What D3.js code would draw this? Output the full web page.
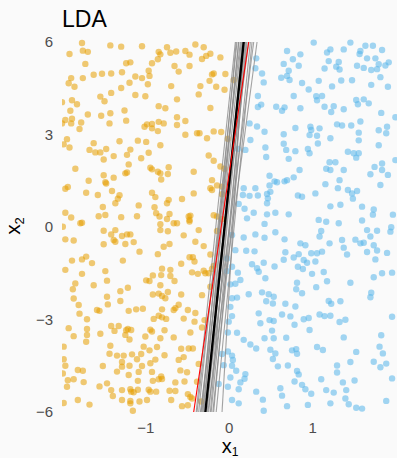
<!DOCTYPE html>
<html>
<head>
<meta charset="utf-8">
<script src="https://cdn.jsdelivr.net/npm/d3@7"></script>
<style>
  body { margin: 0; background: #fafafa; }
  svg { display: block; font-family: "Liberation Sans", Arial, sans-serif; }
</style>
</head>
<body>
<svg id="chart" width="397" height="458"></svg>
<script>
// Class 0 observations (x1, x2)
const orangePoints = [
[-1.76,5.97],[-1.42,5.89],[-1.29,5.85],[-1.04,5.86],[-0.74,5.83],[-0.40,5.92],[-0.30,5.83],
[-1.91,5.61],[-1.75,5.72],[-1.69,5.68],[-0.84,5.68],[-0.82,5.60],[-0.70,5.65],[-0.63,5.69],[-0.52,5.71],[-0.47,5.59],[-0.22,5.62],[-0.27,5.55],[-0.32,5.45],[-0.10,5.50],
[-1.72,5.29],[-1.18,5.34],[-1.23,5.31],[-0.85,5.44],[-0.92,5.31],[-0.65,5.22],[-0.60,5.04],[-0.47,5.22],
[-1.62,4.94],[-1.52,4.97],[-1.41,4.98],[-1.28,5.02],[-0.96,5.07],[-0.95,4.90],[-1.12,4.88],[-1.04,4.83],[-0.20,4.95],[-0.18,4.98],[-0.04,4.96],
[-1.89,4.83],[-1.75,4.83],[-1.92,4.66],[-1.85,4.55],[-1.19,4.68],[-0.97,4.63],[-0.69,4.57],[-0.23,4.74],[-0.15,4.55],[-0.34,4.57],[-0.05,4.45],
[-1.41,4.35],[-1.29,4.51],[-1.54,4.23],[-1.49,4.08],[-1.12,4.28],[-1.00,4.24],[-0.36,4.30],[-0.62,4.14],
[-2.00,4.05],[-1.88,4.11],[-1.82,3.98],[-1.90,3.77],[-0.84,3.92],[-0.76,3.85],[-0.22,3.86],
[-1.69,3.65],[-1.53,3.61],[-1.42,3.69],[-1.25,3.78],[-1.96,3.47],[-1.88,3.51],[-2.00,3.36],[-1.89,3.36],[-1.77,3.39],[-1.43,3.36],[-1.23,3.45],[-0.62,3.56],[-0.52,3.44],
[-1.01,3.25],[-0.98,3.33],[-0.92,3.34],[-0.92,3.20],[-0.84,3.41],[-0.78,3.36],[-0.62,3.31],[-1.79,3.18],[-0.85,3.11],
[-1.94,2.85],[-1.98,2.68],[-1.91,2.58],[-1.62,2.72],[-1.31,2.78],[-1.09,2.80],[-0.99,2.76],[-0.82,2.65],[-0.52,2.99],[-0.38,3.04],[-0.35,3.04],[-0.26,2.88],[-0.18,3.10],[-0.09,3.08],[-0.01,2.86],
[-1.67,2.50],[-1.60,2.42],[-1.54,2.42],[-1.47,2.53],[-1.38,2.30],[-1.18,2.51],[-0.96,2.41],[-1.22,2.34],[-1.05,2.23],[-1.50,2.19],
[-1.84,1.89],[-1.20,2.03],[-0.94,1.92],[-0.92,1.87],[-0.85,1.79],[-0.82,1.74],[-0.72,1.94],[-0.42,1.79],[-0.24,2.32],[-0.18,2.15],[-0.10,1.96],[-0.05,1.89],
[-1.50,1.68],[-1.38,1.60],[-1.24,1.74],[-1.22,1.77],[-1.68,1.50],[-1.48,1.45],[-1.47,1.41],[-0.81,1.54],[-0.73,1.72],
[-1.96,1.24],[-1.93,1.30],[-1.71,1.11],[-1.57,1.04],[-1.40,1.17],[-1.31,1.03],[-1.33,0.92],[-0.92,1.11],[-0.88,0.97],[-0.74,0.77],[-0.72,0.88],[-0.56,0.91],[-0.42,1.09],[-0.22,1.26],[-0.20,1.20],[-0.14,1.35],[-0.08,1.31],[-0.08,1.06],[-0.20,1.52],
[-1.51,0.65],[-1.36,0.77],[-1.08,0.70],[-0.89,0.64],[-1.96,0.46],[-1.89,0.31],[-1.56,0.35],[-1.48,0.39],[-1.29,0.32],[-1.10,0.35],[-0.87,0.45],[-0.83,0.34],[-0.74,0.26],[-0.71,0.42],[-0.48,0.34],[-0.46,0.37],[-0.47,0.23],[-0.18,0.38],[-0.14,0.34],[-0.08,0.26],
[0.06,4.77],
[-1.99,0.01],[-1.78,0.12],[-1.76,0.14],[-0.82,0.09],[-0.66,0.12],[-0.62,0.12],[-0.47,0.18],[-0.14,-0.13],
[-1.50,-0.12],[-1.41,-0.24],[-1.36,-0.10],[-1.28,-0.29],[-1.22,-0.24],[-1.18,-0.24],[-1.38,-0.42],[-1.36,-0.48],[-1.96,-0.40],[-1.86,-0.44],[-0.82,-0.10],[-0.73,-0.14],[-0.54,-0.27],[-0.36,-0.10],
[-1.50,-0.56],[-1.24,-0.55],[-1.14,-0.49],[-1.07,-0.80],[-0.78,-0.64],[-0.71,-0.55],[-0.40,-0.48],[-0.30,-0.62],
[-1.88,-1.09],[-1.76,-1.05],[-1.71,-0.96],[-1.64,-1.17],[-1.27,-1.09],[-0.85,-0.88],[-0.47,-0.98],[-0.43,-0.98],[-0.41,-1.12],[-0.57,-1.19],[-0.22,-0.89],
[-1.96,-1.39],[-1.76,-1.52],[-1.48,-1.43],[-0.91,-1.57],[-0.80,-1.35],[-0.70,-1.39],[-0.44,-1.47],[-0.37,-1.52],[-0.30,-1.42],[-0.28,-1.50],[-0.24,-1.50],[-0.20,-1.36],[-0.18,-1.26],
[-1.84,-1.83],[-1.62,-1.89],[-1.46,-1.74],[-0.99,-1.73],[-0.95,-1.75],[-0.81,-1.56],[-0.70,-1.59],[-0.65,-1.75],[-0.82,-1.89],[-0.32,-2.21],[-0.22,-1.94],
[-1.87,-2.02],[-1.30,-2.08],[-1.21,-1.97],[-0.91,-2.19],[-0.84,-2.16],[-0.80,-2.24],[-0.76,-2.31],[-0.73,-2.11],[-0.60,-2.52],[-0.57,-2.19],[-1.86,-2.32],
[-1.80,-2.53],[-1.46,-2.26],[-1.45,-2.51],[-1.30,-2.40],[-1.20,-2.72],[-1.11,-2.67],[-1.03,-2.65],[-0.80,-2.67],[-0.66,-2.69],[-0.64,-2.63],[-0.49,-2.69],[-0.40,-2.79],
[-1.79,-2.81],[-1.70,-2.99],[-1.58,-2.69],[-1.55,-2.72],[-0.90,-2.98],[-0.84,-2.88],[-0.80,-2.93],[-0.75,-2.98],[-0.54,-2.97],[-0.41,-3.07],[-0.29,-3.02],
[-1.92,-3.28],[-1.41,-3.21],[-1.32,-3.21],[-1.37,-3.37],[-1.23,-3.35],[-1.21,-3.31],[-1.17,-3.34],[-0.94,-3.33],[-0.92,-3.39],[-0.77,-3.35],[-0.46,-3.42],[-0.32,-3.26],
[-1.86,-3.54],[-1.70,-3.31],[-1.70,-3.50],[-1.54,-3.46],[-1.24,-3.50],[-1.00,-3.55],[-0.82,-3.61],[-0.66,-3.58],
[-1.71,-3.72],[-1.19,-3.65],[-1.98,-3.88],[-1.42,-3.85],[-1.02,-3.88],[-0.95,-4.00],[-0.86,-3.89],[-0.57,-3.95],[-0.48,-3.94],[-0.43,-3.94],
[-1.43,-4.11],[-1.34,-4.17],[-1.26,-4.17],[-1.16,-4.13],[-1.05,-4.12],[-0.77,-4.16],[-0.60,-4.31],[-0.54,-4.22],
[-1.98,-4.29],[-1.96,-4.50],[-1.51,-4.51],[-1.28,-4.38],[-1.28,-4.53],[-1.19,-4.50],[-1.10,-4.29],[-1.04,-4.51],[-0.94,-4.42],[-0.88,-4.30],[-0.36,-4.44],
[-1.81,-4.64],[-1.75,-4.66],[-1.34,-4.69],[-1.20,-4.80],[-1.08,-4.70],[-0.92,-4.70],[-0.84,-4.94],[-0.81,-4.85],[-0.58,-4.65],[-0.50,-4.71],
[-1.99,-4.75],[-1.93,-4.97],[-1.94,-5.18],[-1.86,-4.94],[-1.74,-5.03],[-1.55,-5.17],[-1.46,-5.07],[-1.09,-4.99],[-0.91,-4.99],[-0.80,-4.93],[-0.64,-5.04],[-0.53,-5.01],[-0.38,-5.02],
[-1.41,-5.29],[-1.28,-5.29],[-1.18,-5.26],[-1.17,-5.34],[-1.14,-5.36],[-1.09,-5.28],[-0.96,-5.28],[-0.94,-5.34],[-0.87,-5.34],[-0.71,-5.31],[-0.64,-5.32],[-0.49,-5.42],[-0.44,-5.56],
[-1.98,-5.71],[-1.81,-5.61],[-1.67,-5.76],[-1.28,-5.61],[-1.18,-5.64],[-1.18,-5.72],[-1.07,-5.66],[-0.98,-5.61],[-0.69,-5.61],[-0.46,-5.51],[-0.49,-5.78],[-0.33,-5.66],
[-1.15,-5.96],[-0.56,-5.81],[-1.39,-5.48]
];

// Class 1 observations (x1, x2)
const bluePoints = [
[1.02,5.98],[1.46,5.98],[0.70,5.71],[0.86,5.60],[0.77,5.44],[0.66,5.29],[0.84,5.23],[0.72,5.07],[0.32,5.15],[0.40,4.98],[0.70,4.90],[0.73,4.77],[0.63,4.84],[0.42,4.69],[0.88,4.67],[0.96,4.46],
[1.18,5.66],[1.22,5.76],[1.38,5.76],[1.58,5.71],[1.57,5.61],[1.64,5.88],[1.73,5.88],[1.84,5.74],[1.66,5.47],[1.76,5.47],[1.92,5.34],[1.88,5.24],[1.80,5.28],[1.71,5.09],[1.78,5.12],[1.62,5.16],[1.54,5.23],[1.32,5.35],[1.29,5.20],[1.33,5.11],[1.20,5.38],[1.15,5.14],
[1.08,4.74],[1.24,4.56],[1.35,4.75],[1.48,4.76],[1.71,4.61],[1.82,4.86],[1.91,4.55],[1.05,4.24],[1.12,4.25],[1.06,4.11],[0.78,4.25],[0.35,4.25],[0.39,3.97],[0.35,3.89],[0.57,3.90],[0.67,3.88],[0.64,3.77],[0.86,3.85],[1.15,3.90],[1.26,3.92],[1.23,3.73],[1.38,3.82],[1.53,4.12],[1.55,3.98],[1.62,4.14],[1.68,4.01],[1.83,3.70],
[0.25,3.36],[0.34,3.26],[0.43,3.09],[0.66,3.01],[0.80,3.21],[0.98,3.25],[0.99,3.15],[0.97,2.98],[1.09,3.20],[1.06,2.96],[1.22,2.88],[1.30,3.33],[1.36,3.29],[1.47,3.29],[1.58,3.42],[1.56,3.06],[1.56,2.81],[1.80,3.14],[1.90,3.25],[1.89,3.04],[2.00,3.56],
[0.20,2.50],[0.44,2.58],[0.45,2.27],[0.66,2.70],[0.69,2.50],[0.72,2.21],[0.80,2.46],[0.95,2.53],[0.97,2.39],[1.07,2.71],[1.21,2.10],[1.28,2.10],[1.17,1.89],[1.22,1.85],[1.38,1.85],[1.43,2.44],[1.50,2.39],[1.56,2.39],[1.53,2.25],[1.75,1.95],[1.84,2.06],[1.84,1.85],[1.80,2.65],[1.70,1.71],[1.82,1.36],[1.91,1.69],[2.00,2.17],
[0.49,1.66],[0.55,1.48],[0.58,1.45],[0.49,1.35],[0.70,1.52],[0.67,1.48],[0.78,1.61],[0.85,1.85],[1.16,1.39],[1.31,1.26],[1.33,1.52],[1.43,1.20],[1.48,1.09],[1.49,0.92],[1.54,1.17],[1.04,1.09],[0.83,1.02],[0.88,0.98],[0.46,1.07],[0.47,0.93],[0.46,0.77],[0.50,1.14],[0.32,1.26],[0.18,1.26],[0.17,1.04],[0.25,1.01],[0.35,1.02],
[0.12,0.75],[0.19,0.59],[0.30,0.46],[0.46,0.41],[0.56,0.46],[0.72,0.41],[1.08,0.23],[1.17,0.17],[1.22,0.67],[1.34,0.72],[1.60,0.66],[1.60,0.21],[1.74,0.57],[1.73,0.40],[1.97,0.40],[0.22,0.28],[0.43,0.10],[1.32,0.12],
[0.33,5.47],[0.26,2.82],[0.11,2.53],
[0.56,-0.17],[0.32,-0.24],[0.43,-0.35],[0.18,-0.34],[0.04,-0.26],[0.67,-0.40],[0.86,-0.53],[0.92,-0.59],[1.95,-0.01],[1.94,-0.15],[1.78,-0.12],[1.66,-0.10],[1.70,-0.31],[1.52,-0.41],[1.58,-0.53],[1.62,-0.51],[1.36,-0.42],[1.38,-0.67],[1.42,-0.89],[1.21,-0.53],[1.11,-0.13],[1.09,-0.31],
[0.08,-0.75],[0.21,-0.77],[0.31,-0.79],[0.68,-0.82],[0.84,-0.88],[0.78,-0.99],[0.90,-1.07],[0.94,-1.16],[0.99,-0.85],[1.06,-0.85],[1.12,-0.80],[1.04,-1.12],[1.66,-0.81],[1.78,-0.76],[1.74,-0.59],[1.90,-0.84],[1.76,-1.05],[0.66,-1.06],[0.42,-1.16],[0.28,-1.21],[0.34,-1.34],[0.36,-1.45],[0.55,-1.28],[0.83,-1.29],[0.89,-1.36],[1.00,-1.52],[1.14,-1.46],[-0.02,-1.43],[0.11,-1.48],[0.14,-1.72],[0.44,-1.66],[0.08,-1.84],[0.02,-1.86],
[0.82,-1.81],[0.81,-2.02],[0.88,-2.15],[1.05,-1.95],[1.18,-1.76],[1.46,-1.81],[1.74,-1.63],[1.84,-1.50],[1.96,-1.48],[0.40,-2.12],[0.48,-2.18],[0.54,-2.26],[0.53,-2.48],[0.45,-2.41],[0.24,-2.18],[0.10,-2.29],[0.04,-2.31],[0.68,-2.49],[0.80,-2.58],[1.20,-2.40],[1.23,-2.49],[1.34,-2.41],[1.71,-2.13],[1.70,-2.28],
[0.36,-2.80],[0.04,-2.89],[0.64,-2.84],[0.74,-2.90],[0.90,-2.99],[0.96,-2.95],[1.09,-2.84],[1.15,-2.89],[1.22,-2.88],[1.33,-3.08],[1.40,-3.01],[1.96,-2.91],[0.49,-3.02],[0.54,-3.05],[0.38,-3.12],[0.79,-3.17],[0.97,-3.34],[0.00,-3.07],[0.10,-3.43],[0.52,-3.36],[0.43,-3.61],[0.54,-3.61],[0.69,-3.59],[1.38,-3.58],[1.83,-3.51],
[0.18,-3.66],[0.26,-3.81],[0.33,-3.94],[0.50,-3.98],[0.56,-4.10],[0.53,-4.28],[0.76,-4.00],[0.81,-3.96],[0.82,-4.11],[1.06,-3.89],[1.13,-3.99],[1.53,-4.05],[1.81,-3.88],[1.85,-4.10],[0.04,-4.17],[-0.01,-4.04],[0.05,-4.31],[0.04,-4.50],[0.59,-4.52],[0.71,-4.49],[1.30,-4.49],[1.30,-4.72],[1.46,-4.38],[1.74,-4.37],[1.82,-4.55],[1.89,-4.43],
[0.09,-4.66],[0.20,-4.77],[0.19,-4.92],[0.02,-4.88],[0.14,-5.04],[-0.01,-5.18],[0.12,-5.26],[0.33,-5.34],[0.41,-5.60],[0.62,-5.23],[0.64,-5.47],[0.79,-5.01],[0.82,-4.67],[0.84,-4.78],[0.88,-5.12],[0.92,-5.26],[0.99,-5.41],[1.11,-4.94],[1.17,-5.29],[1.26,-5.37],[1.37,-5.04],[1.41,-5.29],[1.51,-4.98],[1.40,-5.56],[1.44,-5.75],[1.53,-5.86],[1.60,-5.89],[1.89,-5.64],[1.96,-4.91],[0.04,-5.61],[0.12,-5.72],[0.70,-5.81],[0.95,-5.77],[1.22,-5.72],
[0.42,-5.96],
[-0.08,-4.12],[-0.06,-4.48],[-0.12,-5.09],[-0.02,-1.02],[0.04,-1.29],[0.02,-2.59],[-0.01,-3.42]
];

// Bootstrap LDA boundaries: x1 where each line meets x2 = 6 (top) and x2 = -6 (bottom)
const bootTop    = [0.08, 0.10, 0.12, 0.14, 0.15, 0.17, 0.18, 0.20, 0.22, 0.24, 0.26, 0.28, 0.30, 0.34, 0.12, 0.21, 0.16, 0.09];
const bootBottom = [-0.39, -0.36, -0.33, -0.38, -0.31, -0.26, -0.08, -0.24, -0.21, -0.34, -0.19, -0.15, -0.28, -0.25, -0.30, -0.18, -0.22, -0.32];
// Full-sample LDA boundary and true boundary
const fitLine  = { top: 0.18, bottom: -0.28 };
const trueLine = { top: 0.24, bottom: -0.42 };

const xTicks = [-1, 0, 1];
const yTicks = [-6, -3, 0, 3, 6];

const svg = d3.select("#chart");
const x = d3.scaleLinear().domain([-2, 2]).range([62, 395.4]);
const y = d3.scaleLinear().domain([-6, 6]).range([412, 42]);

svg.append("defs").append("clipPath").attr("id", "panel")
  .append("rect").attr("x", 62).attr("y", 38).attr("width", 340).attr("height", 378);

const plot = svg.append("g").attr("clip-path", "url(#panel)");

plot.append("g").selectAll("circle").data(orangePoints).join("circle")
  .attr("cx", d => x(d[0])).attr("cy", d => y(d[1])).attr("r", 3.2)
  .attr("fill", "#E69F00").attr("fill-opacity", 0.55);

plot.append("g").selectAll("circle").data(bluePoints).join("circle")
  .attr("cx", d => x(d[0])).attr("cy", d => y(d[1])).attr("r", 3.2)
  .attr("fill", "#56B4E9").attr("fill-opacity", 0.55);

const line = d3.line().x(d => x(d[0])).y(d => y(d[1]));
const bootLines = bootTop.map((t, i) => [[bootBottom[i], -6], [t, 6]]);

plot.append("g").selectAll("path").data(bootLines).join("path")
  .attr("d", line).attr("fill", "none")
  .attr("stroke", "#8c8c8c").attr("stroke-opacity", 0.8).attr("stroke-width", 1.1);

plot.append("path").datum([[fitLine.bottom, -6], [fitLine.top, 6]])
  .attr("d", line).attr("fill", "none").attr("stroke", "#000").attr("stroke-width", 2.4);

plot.append("path").datum([[trueLine.bottom, -6], [trueLine.top, 6]])
  .attr("d", line).attr("fill", "none").attr("stroke", "#ff0000").attr("stroke-width", 1.1);

// Axes without lines or tick marks
const fmt = d => d < 0 ? "\u2212" + Math.abs(d) : d;
const yAxis = svg.append("g").attr("transform", "translate(62,0)")
  .call(d3.axisLeft(y).tickValues(yTicks).tickSize(0).tickPadding(9).tickFormat(fmt));
const xAxis = svg.append("g").attr("transform", "translate(0,412)")
  .call(d3.axisBottom(x).tickValues(xTicks).tickSize(0).tickPadding(10).tickFormat(fmt));
[yAxis, xAxis].forEach(a => {
  a.select(".domain").remove();
  a.selectAll("text").attr("fill", "#4d4d4d").attr("font-size", 15)
    .attr("font-family", "'Liberation Sans', Arial, sans-serif");
});

svg.append("text").attr("x", 62).attr("y", 27)
  .attr("font-size", 23).attr("fill", "#000").text("LDA");

const xl = svg.append("text").attr("x", 230).attr("y", 452.5)
  .attr("text-anchor", "middle").attr("font-size", 20).attr("fill", "#000");
xl.append("tspan").text("x");
xl.append("tspan").attr("font-size", 12).attr("dy", 3).text("1");

const yl = svg.append("text").attr("transform", "translate(20,226) rotate(-90)")
  .attr("text-anchor", "middle").attr("font-size", 21).attr("fill", "#000");
yl.append("tspan").text("x");
yl.append("tspan").attr("font-size", 13).attr("dy", 3.5).text("2");
</script>
</body>
</html>
